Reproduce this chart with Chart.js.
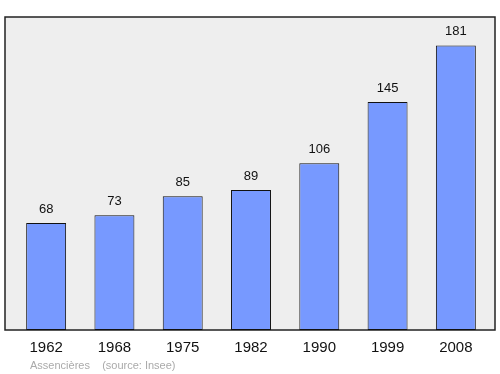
<!DOCTYPE html>
<html><head><meta charset="utf-8">
<script src="https://cdn.jsdelivr.net/npm/chart.js@4/dist/chart.umd.min.js"></script>
<style>html,body{margin:0;padding:0;background:#fff;}#wrap{width:500px;height:374px;position:relative;}</style>
</head><body><div id="wrap"><canvas id="c" width="500" height="374"></canvas></div>
<script>
const years = ["1962","1968","1975","1982","1990","1999","2008"];
const population = [68, 73, 85, 89, 106, 145, 181];
const footerText = "Assencières    (source: Insee)";

const framePlugin = {
  id: 'frame',
  beforeDatasetsDraw(chart) {
    const a = chart.chartArea, ctx = chart.ctx;
    ctx.save();
    ctx.fillStyle = '#eeeeee';
    ctx.fillRect(a.left - 7, a.top, a.right - a.left + 12, a.bottom - a.top);
    ctx.strokeStyle = '#222';
    ctx.lineWidth = 1.5;
    ctx.strokeRect(a.left - 7, a.top, a.right - a.left + 12, a.bottom - a.top);
    ctx.restore();
  },
  afterDatasetsDraw(chart) {
    const ctx = chart.ctx;
    const meta = chart.getDatasetMeta(0);
    ctx.save();
    ctx.fillStyle = '#111';
    ctx.font = '13px "Liberation Sans", Arial, sans-serif';
    ctx.textAlign = 'center';
    ctx.textBaseline = 'alphabetic';
    meta.data.forEach((bar, i) => {
      ctx.fillText(String(population[i]), bar.x, bar.y - 10);
    });
    ctx.fillStyle = '#aaaaaa';
    ctx.font = '11px "Liberation Sans", Arial, sans-serif';
    ctx.textAlign = 'left';
    ctx.fillText(footerText, 30, 369);
    ctx.restore();
  }
};

new Chart(document.getElementById('c'), {
  type: 'bar',
  data: {
    labels: years,
    datasets: [{
      data: population,
      backgroundColor: '#7799ff',
      borderColor: '#111',
      borderWidth: 1,
      borderSkipped: false,
      categoryPercentage: 1,
      barPercentage: 0.585
    }]
  },
  options: {
    responsive: false,
    animation: false,
    layout: { padding: { left: 12, right: 10, top: 17, bottom: 8 } },
    plugins: { legend: { display: false }, tooltip: { enabled: false } },
    scales: {
      x: {
        grid: { display: false, drawTicks: false },
        border: { display: false },
        ticks: { color: '#111', font: { size: 15, family: '"Liberation Sans", Arial, sans-serif' }, padding: 9 }
      },
      y: { display: false, min: 0, max: 199.1 }
    }
  },
  plugins: [framePlugin]
});
</script></body></html>
